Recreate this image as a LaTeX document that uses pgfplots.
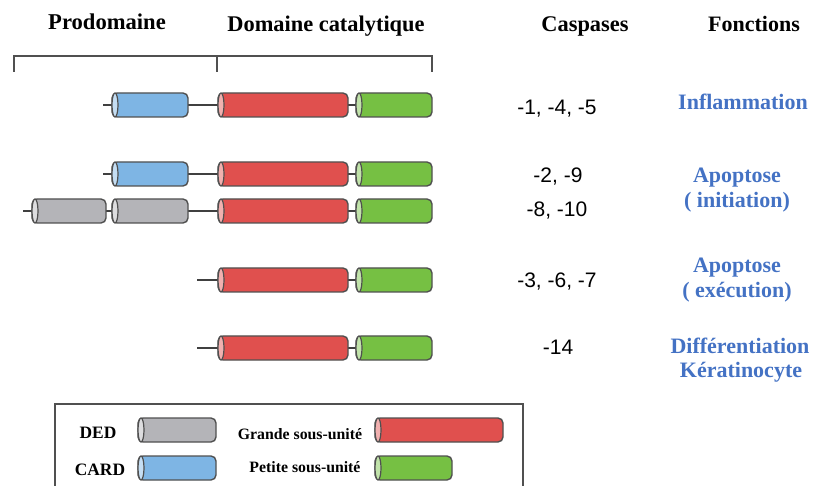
\documentclass[border=0pt]{standalone}
\usepackage{pgfplots}
\pgfplotsset{compat=1.18}
\usepackage{fontspec}
\setmainfont{Liberation Serif}
\newfontfamily\arial{Liberation Sans}
\definecolor{cblue}{RGB}{126,181,228}
\definecolor{cred}{RGB}{224,80,78}
\definecolor{cgreen}{RGB}{118,192,67}
\definecolor{cgray}{RGB}{180,180,184}
\definecolor{cline}{RGB}{80,80,80}
\definecolor{ftxt}{RGB}{68,114,196}
% cylinder: x1 x2 ytop ybot colour
\newcommand{\cyl}[5]{%
  \addplot[draw=cline, fill=#5, line width=0.7pt, rounded corners=2.5pt]
    coordinates {(#1,#3) (#2,#3) (#2,#4) (#1,#4)} -- cycle;
  \draw[draw=cline, fill=#5!45!white, line width=0.6pt]
    (axis cs:{#1+3},{(#3+#4)/2}) ellipse [x radius=1.5pt, y radius={((#4)-(#3))/4*1pt}];
}
\begin{document}
\begin{tikzpicture}
\begin{axis}[
  scale only axis, width=407pt, height=243pt,
  xmin=0, xmax=814, ymin=0, ymax=486, y dir=reverse,
  hide axis, clip=false,
  every node/.style={inner sep=0pt},
]
% bracket
\addplot[cline, line width=0.8pt] coordinates {(14,72) (14,56) (432,56) (432,72)};
\addplot[cline, line width=0.8pt] coordinates {(217,56) (217,72)};
% linkers
\addplot[black!75, line width=1pt] coordinates {(103,105) (400,105)};
\addplot[black!75, line width=1pt] coordinates {(103,174) (400,174)};
\addplot[black!75, line width=1pt] coordinates {(23,211) (400,211)};
\addplot[black!75, line width=1pt] coordinates {(197,280) (400,280)};
\addplot[black!75, line width=1pt] coordinates {(197,348) (400,348)};
% row 1
\cyl{112}{188}{93}{117}{cblue}
\cyl{218}{348}{93}{117}{cred}
\cyl{356}{432}{93}{117}{cgreen}
% row 2
\cyl{112}{188}{162}{186}{cblue}
\cyl{218}{348}{162}{186}{cred}
\cyl{356}{432}{162}{186}{cgreen}
% row 3
\cyl{32}{106}{199}{223}{cgray}
\cyl{112}{188}{199}{223}{cgray}
\cyl{218}{348}{199}{223}{cred}
\cyl{356}{432}{199}{223}{cgreen}
% row 4
\cyl{218}{348}{268}{292}{cred}
\cyl{356}{432}{268}{292}{cgreen}
% row 5
\cyl{218}{348}{336}{360}{cred}
\cyl{356}{432}{336}{360}{cgreen}
% legend box
\addplot[cline, line width=0.8pt] coordinates {(55,486) (55,404) (523,404) (523,486)};
\cyl{138}{216}{418}{442}{cgray}
\cyl{138}{216}{456}{480}{cblue}
\cyl{375}{503}{418}{442}{cred}
\cyl{375}{452}{456}{480}{cgreen}
% headings
\node[anchor=base, font=\fontsize{11.3}{13}\selectfont\bfseries] at (axis cs:107,29.5) {Prodomaine};
\node[anchor=base, font=\fontsize{11.2}{13}\selectfont\bfseries] at (axis cs:326,31.5) {Domaine catalytique};
\node[anchor=base, font=\fontsize{11.2}{13}\selectfont\bfseries] at (axis cs:585,32) {Caspases};
\node[anchor=base, font=\fontsize{11}{13}\selectfont\bfseries] at (axis cs:754,32) {Fonctions};
% caspases
\node[anchor=base, font=\arial\fontsize{10.5}{12}\selectfont] at (axis cs:557,115) {-1, -4, -5};
\node[anchor=base, font=\arial\fontsize{10.5}{12}\selectfont] at (axis cs:558,183) {-2, -9};
\node[anchor=base, font=\arial\fontsize{10.5}{12}\selectfont] at (axis cs:557,217) {-8, -10};
\node[anchor=base, font=\arial\fontsize{10.5}{12}\selectfont] at (axis cs:557,288) {-3, -6, -7};
\node[anchor=base, font=\arial\fontsize{10.5}{12}\selectfont] at (axis cs:558,355) {-14};
% functions
\tikzset{fn/.style={anchor=base, text=ftxt, font=\fontsize{11}{13}\selectfont\bfseries}}
\node[fn] at (axis cs:743,110) {Inflammation};
\node[fn] at (axis cs:737,183) {Apoptose};
\node[fn] at (axis cs:737,208) {( initiation)};
\node[fn] at (axis cs:737,273) {Apoptose};
\node[fn] at (axis cs:737,298) {( exécution)};
\node[fn] at (axis cs:740,353) {Différentiation};
\node[fn] at (axis cs:741,378) {Kératinocyte};
% legend texts
\node[anchor=base, font=\fontsize{8.7}{10}\selectfont\bfseries] at (axis cs:98,438) {DED};
\node[anchor=base, font=\fontsize{8.7}{10}\selectfont\bfseries] at (axis cs:100,475) {CARD};
\node[anchor=base, font=\fontsize{7.9}{10}\selectfont\bfseries] at (axis cs:300,439) {Grande sous-unité};
\node[anchor=base, font=\fontsize{7.9}{10}\selectfont\bfseries] at (axis cs:305,472) {Petite sous-unité};
\end{axis}
\pgfresetboundingbox
\path[use as bounding box] (current axis.south west) rectangle (current axis.north east);
\end{tikzpicture}
\end{document}
